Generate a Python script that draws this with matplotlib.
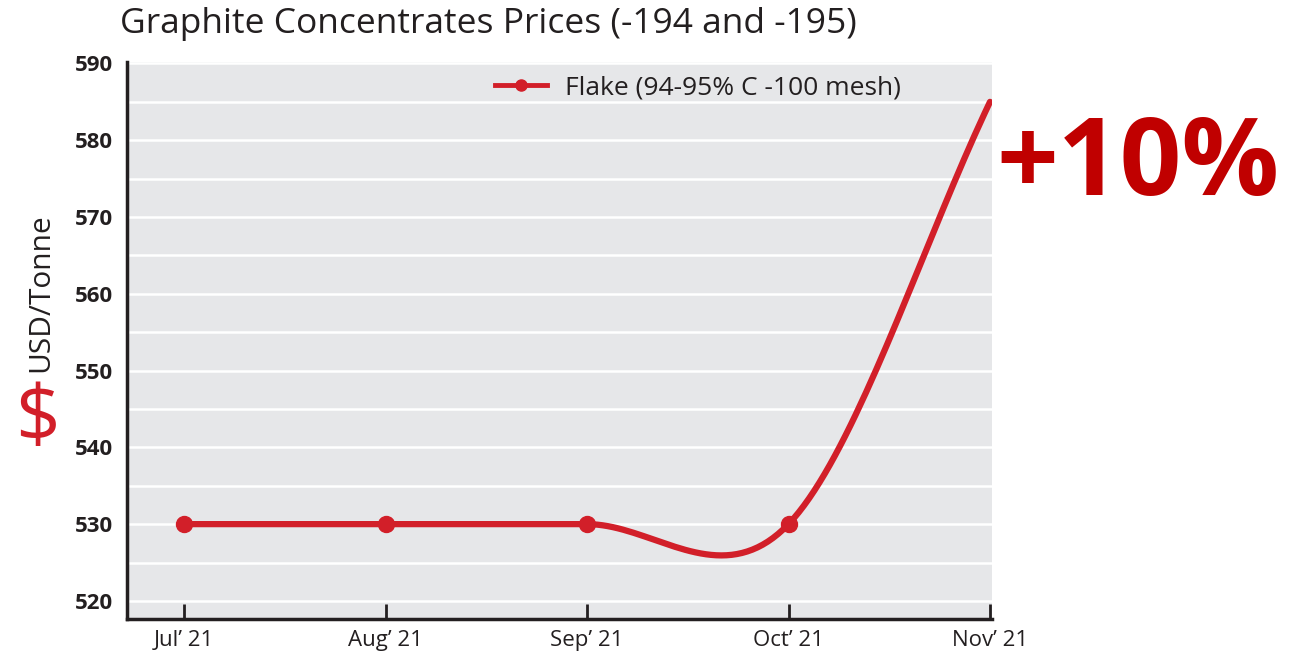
import numpy as np
import matplotlib.pyplot as plt
from matplotlib.lines import Line2D

# data
months = ["Jul\u2019 21", "Aug\u2019 21", "Sep\u2019 21", "Oct\u2019 21", "Nov\u2019 21"]
prices = [530, 530, 530, 530, 585]
series_name = "Flake (94-95% C -100 mesh)"
title = "Graphite Concentrates Prices (-194 and -195)"

RED = "#D21F29"
plt.rcParams["font.family"] = ["Open Sans", "DejaVu Sans"]


def smooth(xs, ys, n=40):
    # cubic hermite curve through the points, like the original chart
    xs = np.asarray(xs, float)
    ys = np.asarray(ys, float)
    m = np.gradient(ys, xs)
    m[0] = 0.0
    m[-1] = ys[-1] - ys[-2]
    ox, oy = [], []
    for i in range(len(xs) - 1):
        t = np.linspace(0, 1, n)
        h = xs[i + 1] - xs[i]
        h00 = 2 * t**3 - 3 * t**2 + 1
        h10 = t**3 - 2 * t**2 + t
        h01 = -2 * t**3 + 3 * t**2
        h11 = t**3 - t**2
        ox.append(xs[i] + t * h)
        oy.append(h00 * ys[i] + h10 * h * m[i] + h01 * ys[i + 1] + h11 * h * m[i + 1])
    return np.concatenate(ox), np.concatenate(oy)


fig = plt.figure(figsize=(13.07, 6.54), dpi=100)
ax = fig.add_axes([0.0972, 0.0536, 0.6618, 0.8517])
ax.set_facecolor("#E6E7E9")

x = np.arange(len(months))
sx, sy = smooth(x, prices)
ax.plot(sx, sy, color=RED, lw=4.5, solid_capstyle="round", zorder=3)
ax.plot(x[:-1], prices[:-1], "o", color=RED, ms=11.5, zorder=4)

ax.set_xlim(-0.283, 4.01)
ax.set_ylim(517.65, 590.2)
ax.set_yticks(np.arange(520, 591, 10))
ax.set_yticks(np.arange(520, 591, 5), minor=True)
ax.grid(True, which="both", axis="y", color="white", lw=1.8)
ax.set_axisbelow(True)
ax.set_xticks(x)
ax.set_xticklabels(months, fontsize=16, color="#231F20")
ax.tick_params(axis="x", direction="in", length=11, width=2, color="#231F20", pad=8)
ax.tick_params(axis="y", which="both", length=0, pad=10, labelsize=16, labelcolor="#231F20")
for lab in ax.get_yticklabels():
    lab.set_fontweight("bold")

for s in ["top", "right"]:
    ax.spines[s].set_visible(False)
for s in ["left", "bottom"]:
    ax.spines[s].set_linewidth(2.5)
    ax.spines[s].set_color("#231F20")

handle = Line2D([], [], color=RED, lw=3.5, marker="o", ms=8)
ax.legend([handle], [series_name], loc="center left", bbox_to_anchor=(0.425, 0.953),
          frameon=False, fontsize=19, borderpad=0, borderaxespad=0,
          handlelength=2.0, handletextpad=0.65, labelcolor="#231F20")

fig.text(0.092, 0.963, title, fontsize=25.5, color="#231F20", va="center", ha="left")
fig.text(0.031, 0.553, "USD/Tonne", rotation=90, fontsize=21.5, color="#231F20",
         va="center", ha="center")
fig.text(0.029, 0.355, "$", fontsize=56, color=RED,
         va="center", ha="center")
fig.text(0.762, 0.745, "+10%", fontsize=78, color="#C00000", fontweight="bold",
         va="center", ha="left")

fig.savefig("out.png", dpi=100)
